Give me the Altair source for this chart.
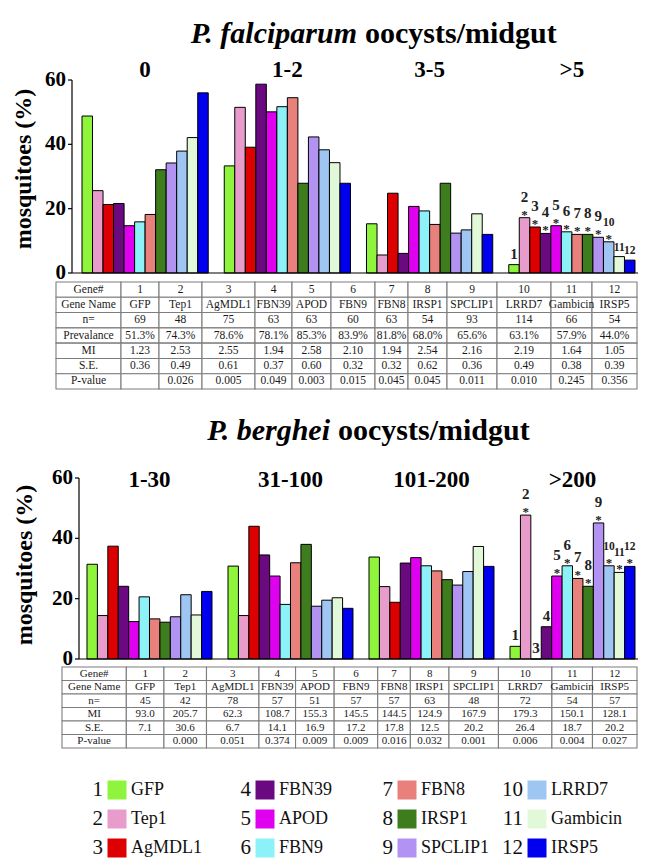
import altair as alt
import pandas as pd

# ---------------- data ----------------
GENE_IDS = list(range(1, 13))
GENE_NAMES = ["GFP", "Tep1", "AgMDL1", "FBN39", "APOD", "FBN9", "FBN8",
              "IRSP1", "SPCLIP1", "LRRD7", "Gambicin", "IRSP5"]
GENE_COLORS = ["#8ef53c", "#e89ccb", "#dd0000", "#6b0a80", "#e000f0", "#8cf2f8",
               "#e8807c", "#3e7d1e", "#b393f2", "#9fc6f3", "#e2f9d9", "#0000ee"]

# P. falciparum: % mosquitoes per oocyst class
PF_GROUPS = ["0", "1-2", "3-5", ">5"]
PF_G0 = [48.8, 25.6, 21.3, 21.6, 14.7, 15.9, 18.2, 32.1, 34.2, 37.9, 42.1, 56.0]
PF_G1 = [33.3, 51.5, 39.1, 58.7, 50.1, 51.7, 54.5, 27.9, 42.3, 38.3, 34.3, 27.9]
PF_G2 = [15.3, 5.6, 24.8, 6.1, 20.7, 19.3, 15.1, 27.9, 12.4, 13.4, 18.4, 12.0]
PF_G3 = [2.6, 17.2, 14.3, 12.3, 14.7, 12.8, 12.0, 12.0, 11.1, 9.7, 5.1, 4.0]
PF_SIGNIF = [False, True, True, True, True, True, True, True, True, True, False, False]

# P. berghei
PB_GROUPS = ["1-30", "31-100", "101-200", ">200"]
PB_G0 = [31.4, 14.4, 37.4, 24.1, 12.4, 20.6, 13.3, 12.2, 14.0, 21.3, 14.6, 22.4]
PB_G1 = [30.8, 14.4, 44.0, 34.5, 27.5, 18.1, 31.9, 38.0, 17.5, 19.5, 20.3, 16.8]
PB_G2 = [33.8, 24.0, 18.8, 31.8, 33.6, 30.9, 29.2, 26.3, 24.5, 29.0, 37.3, 30.7]
PB_G3 = [4.2, 47.7, 0.0, 10.7, 27.5, 30.9, 26.7, 24.1, 45.1, 30.9, 28.7, 30.7]
PB_SIGNIF = [False, True, False, False, True, True, True, True, True, True, True, True]

Y_TICKS = [0, 20, 40, 60]

# tables
PF_ROW_LABELS = ["Gene#", "Gene Name", "n=", "Prevalance", "MI", "S.E.", "P-value"]
PF_N = ["69", "48", "75", "63", "63", "60", "63", "54", "93", "114", "66", "54"]
PF_PREV = ["51.3%", "74.3%", "78.6%", "78.1%", "85.3%", "83.9%", "81.8%", "68.0%",
           "65.6%", "63.1%", "57.9%", "44.0%"]
PF_MI = ["1.23", "2.53", "2.55", "1.94", "2.58", "2.10", "1.94", "2.54", "2.16", "2.19", "1.64", "1.05"]
PF_SE = ["0.36", "0.49", "0.61", "0.37", "0.60", "0.32", "0.32", "0.62", "0.36", "0.49", "0.38", "0.39"]
PF_P = ["", "0.026", "0.005", "0.049", "0.003", "0.015", "0.045", "0.045", "0.011",
        "0.010", "0.245", "0.356"]

PB_ROW_LABELS = ["Gene#", "Gene Name", "n=", "MI", "S.E.", "P-value"]
PB_N = ["45", "42", "78", "57", "51", "57", "57", "63", "48", "72", "54", "57"]
PB_MI = ["93.0", "205.7", "62.3", "108.7", "155.3", "145.5", "144.5", "124.9", "167.9",
         "179.3", "150.1", "128.1"]
PB_SE = ["7.1", "30.6", "6.7", "14.1", "16.9", "17.2", "17.8", "12.5", "20.2", "26.4", "18.7", "20.2"]
PB_P = ["", "0.000", "0.051", "0.374", "0.009", "0.009", "0.016", "0.032", "0.001",
        "0.006", "0.004", "0.027"]

TITLE_PF = ["P. falciparum", "oocysts/midgut"]
TITLE_PB = ["P. berghei", "oocysts/midgut"]
Y_TITLE = "mosquitoes (%)"

# ---------------- style / layout ----------------
W, H = 630, 851
SERIF = "Liberation Serif"
TABLE_COL_WIDTHS = [65, 38, 43, 53, 37, 39, 44, 33, 39, 50, 54, 41, 45]
LEGEND_COL_X = [109, 257, 399, 529]
LEGEND_ROW_Y = [782, 811, 840]

color_enc = alt.Color("name:N", scale=alt.Scale(domain=GENE_NAMES, range=GENE_COLORS), legend=None)


def bar_panel(groups, series, signif, x_range, pad_in, pad_out, y_range,
              axis_x, title_dx, title_y, label_y):
    rows = []
    for g, vals in zip(groups, series):
        for gid, name, v in zip(GENE_IDS, GENE_NAMES, vals):
            rows.append({"group": g, "gene": gid, "name": name, "value": v})
    df = pd.DataFrame(rows)
    lab = df[df["group"] == groups[-1]].copy()
    lab["star"] = signif
    lab["num"] = lab["gene"].astype(str)
    lab["ast"] = "*"
    lab["fs"] = [15 if g < 10 else 11.5 for g in lab["gene"]]

    xs = alt.Scale(domain=groups, range=x_range, paddingInner=pad_in, paddingOuter=pad_out)
    xos = alt.Scale(domain=GENE_IDS, paddingInner=0, paddingOuter=0)
    ys = alt.Scale(domain=[Y_TICKS[0], Y_TICKS[-1]], range=y_range, nice=False, zero=True)

    bars = alt.Chart(df).mark_bar(stroke="black", strokeWidth=1).encode(
        x=alt.X("group:N", scale=xs, axis=None),
        xOffset=alt.XOffset("gene:O", scale=xos),
        y=alt.Y("value:Q", scale=ys, axis=None),
        color=color_enc,
    )
    glab = alt.Chart(pd.DataFrame({"group": groups})).mark_text(
        font=SERIF, fontSize=23, fontWeight="bold", baseline="alphabetic", color="black"
    ).encode(x=alt.X("group:N", scale=xs, axis=None), y=alt.value(label_y), text="group:N")

    def lab_layer(d, field, dy, size=None):
        enc = dict(
            x=alt.X("group:N", scale=xs, axis=None),
            xOffset=alt.XOffset("gene:O", scale=xos),
            y=alt.Y("value:Q", scale=ys, axis=None),
            text=f"{field}:N",
        )
        if size is None:
            enc["size"] = alt.Size("fs:Q", scale=None, legend=None)
        mk = dict(font=SERIF, fontWeight="bold", baseline="alphabetic", color="#222222", dy=dy)
        if size is not None:
            mk["fontSize"] = size
        return alt.Chart(d).mark_text(**mk).encode(**enc)

    n_star = lab_layer(lab[lab["star"]], "num", -16)
    n_plain = lab_layer(lab[~lab["star"]], "num", -6)
    stars = lab_layer(lab[lab["star"]], "ast", 1, 13)

    # axis drawn with marks on the panel's y scale
    ends = pd.DataFrame({"a": [Y_TICKS[0]], "b": [Y_TICKS[-1]]})
    ticks = pd.DataFrame({"v": Y_TICKS, "lab": [str(t) for t in Y_TICKS]})
    y_line = alt.Chart(ends).mark_rule(color="black", strokeWidth=1.2).encode(
        x=alt.value(axis_x), y=alt.Y("a:Q", scale=ys, axis=None), y2="b:Q")
    base_line = alt.Chart(ends).mark_rule(color="black", strokeWidth=1.2).encode(
        x=alt.value(axis_x), x2=alt.value(W), y=alt.Y("a:Q", scale=ys, axis=None))
    y_ticks = alt.Chart(ticks).mark_rule(color="black", strokeWidth=1.2).encode(
        x=alt.value(axis_x - 4), x2=alt.value(axis_x), y=alt.Y("v:Q", scale=ys, axis=None))
    y_labels = alt.Chart(ticks).mark_text(
        font=SERIF, fontSize=21, fontWeight="bold", align="right", baseline="middle", color="black"
    ).encode(x=alt.value(axis_x - 6), y=alt.Y("v:Q", scale=ys, axis=None), text="lab:N")
    y_title = alt.Chart(pd.DataFrame({"t": [Y_TITLE]})).mark_text(
        font=SERIF, fontSize=24, fontWeight="bold", angle=270, align="center",
        baseline="middle", color="black"
    ).encode(x=alt.value(axis_x + title_dx), y=alt.value(title_y), text="t:N")
    return alt.layer(bars, base_line, y_line, y_ticks, y_labels, y_title, glab, n_star, n_plain, stars)


def table_panel(row_labels, data_rows, x_range, y_range, font_size):
    total = sum(TABLE_COL_WIDTHS)
    edges = [0]
    for w in TABLE_COL_WIDTHS:
        edges.append(edges[-1] + w)
    cells = []
    for lab, vals in zip(row_labels, data_rows):
        for c, t in enumerate([lab] + list(vals)):
            cells.append({"row": lab, "x0": edges[c], "x1": edges[c + 1],
                          "xc": (edges[c] + edges[c + 1]) / 2, "txt": t})
    df = pd.DataFrame(cells)
    xs = alt.Scale(domain=[0, total], range=x_range, nice=False, zero=False)
    ys = alt.Scale(type="band", domain=row_labels, range=y_range, paddingInner=0, paddingOuter=0)
    rect = alt.Chart(df).mark_rect(fill="white", stroke="#7d7d7d", strokeWidth=1.1).encode(
        x=alt.X("x0:Q", scale=xs, axis=None), x2="x1:Q",
        y=alt.Y("row:N", scale=ys, axis=None),
    )
    txt = alt.Chart(df).mark_text(font=SERIF, fontSize=font_size, color="#1a1a1a",
                                  baseline="middle", align="center").encode(
        x=alt.X("xc:Q", scale=xs, axis=None),
        y=alt.Y("row:N", scale=ys, axis=None),
        text="txt:N",
    )
    return alt.layer(rect, txt)


def title_layer(words, x_split, y, size):
    left = alt.Chart(pd.DataFrame({"t": [words[0]]})).mark_text(
        font=SERIF, fontSize=size, fontWeight="bold", fontStyle="italic",
        align="right", baseline="alphabetic", color="black"
    ).encode(x=alt.value(x_split - 4), y=alt.value(y), text="t:N")
    right = alt.Chart(pd.DataFrame({"t": [words[1]]})).mark_text(
        font=SERIF, fontSize=size, fontWeight="bold",
        align="left", baseline="alphabetic", color="black"
    ).encode(x=alt.value(x_split + 4), y=alt.value(y), text="t:N")
    return alt.layer(left, right)


pf = bar_panel(PF_GROUPS, [PF_G0, PF_G1, PF_G2, PF_G3], PF_SIGNIF,
               x_range=[64, 637], pad_in=0.1125, pad_out=0.0703, y_range=[265, 72],
               axis_x=64, title_dx=-48, title_y=161, label_y=69)
pb = bar_panel(PB_GROUPS, [PB_G0, PB_G1, PB_G2, PB_G3], PB_SIGNIF,
               x_range=[71, 635], pad_in=0.1135, pad_out=0.0567, y_range=[651, 470],
               axis_x=71, title_dx=-54, title_y=557, label_y=479)

pf_table = table_panel(PF_ROW_LABELS,
                       [[str(i) for i in GENE_IDS], GENE_NAMES, PF_N, PF_PREV, PF_MI, PF_SE, PF_P],
                       x_range=[48, 629], y_range=[274, 381], font_size=11.5)
pb_table = table_panel(PB_ROW_LABELS,
                       [[str(i) for i in GENE_IDS], GENE_NAMES, PB_N, PB_MI, PB_SE, PB_P],
                       x_range=[54, 629], y_range=[659, 740], font_size=11)

leg_df = pd.DataFrame({
    "gene": GENE_IDS, "name": GENE_NAMES,
    "num": [str(i) for i in GENE_IDS],
    "col": [(i - 1) // 3 for i in GENE_IDS],
    "row": [(i - 1) % 3 for i in GENE_IDS],
})
lxs = alt.Scale(domain=[0, 1, 2, 3], range=LEGEND_COL_X, nice=False, zero=False)
lys = alt.Scale(domain=[0, 1, 2], range=LEGEND_ROW_Y, nice=False, zero=False)
leg_base = alt.Chart(leg_df).encode(
    x=alt.X("col:Q", scale=lxs, axis=None),
    y=alt.Y("row:Q", scale=lys, axis=None),
)
legend = alt.layer(
    leg_base.mark_square(size=361, opacity=1, strokeWidth=0).encode(color=color_enc),
    leg_base.mark_text(font=SERIF, fontSize=21, align="right", baseline="middle",
                       dx=-14, color="#111111").encode(text="num:N"),
    leg_base.mark_text(font=SERIF, fontSize=18, align="left", baseline="middle",
                       dx=14, color="#111111").encode(text="name:N"),
)

chart = alt.layer(
    pf, pf_table, pb, pb_table, legend,
    title_layer(TITLE_PF, 353, 35, 30),
    title_layer(TITLE_PB, 326, 432, 30),
).resolve_scale(
    x="independent", y="independent", xOffset="independent"
).properties(
    width=W, height=H, padding=0, autosize=alt.AutoSizeParams(type="none"),
    background="white",
).configure_view(stroke=None)

chart.save("out.html", embed_options={"renderer": "svg", "actions": False})
